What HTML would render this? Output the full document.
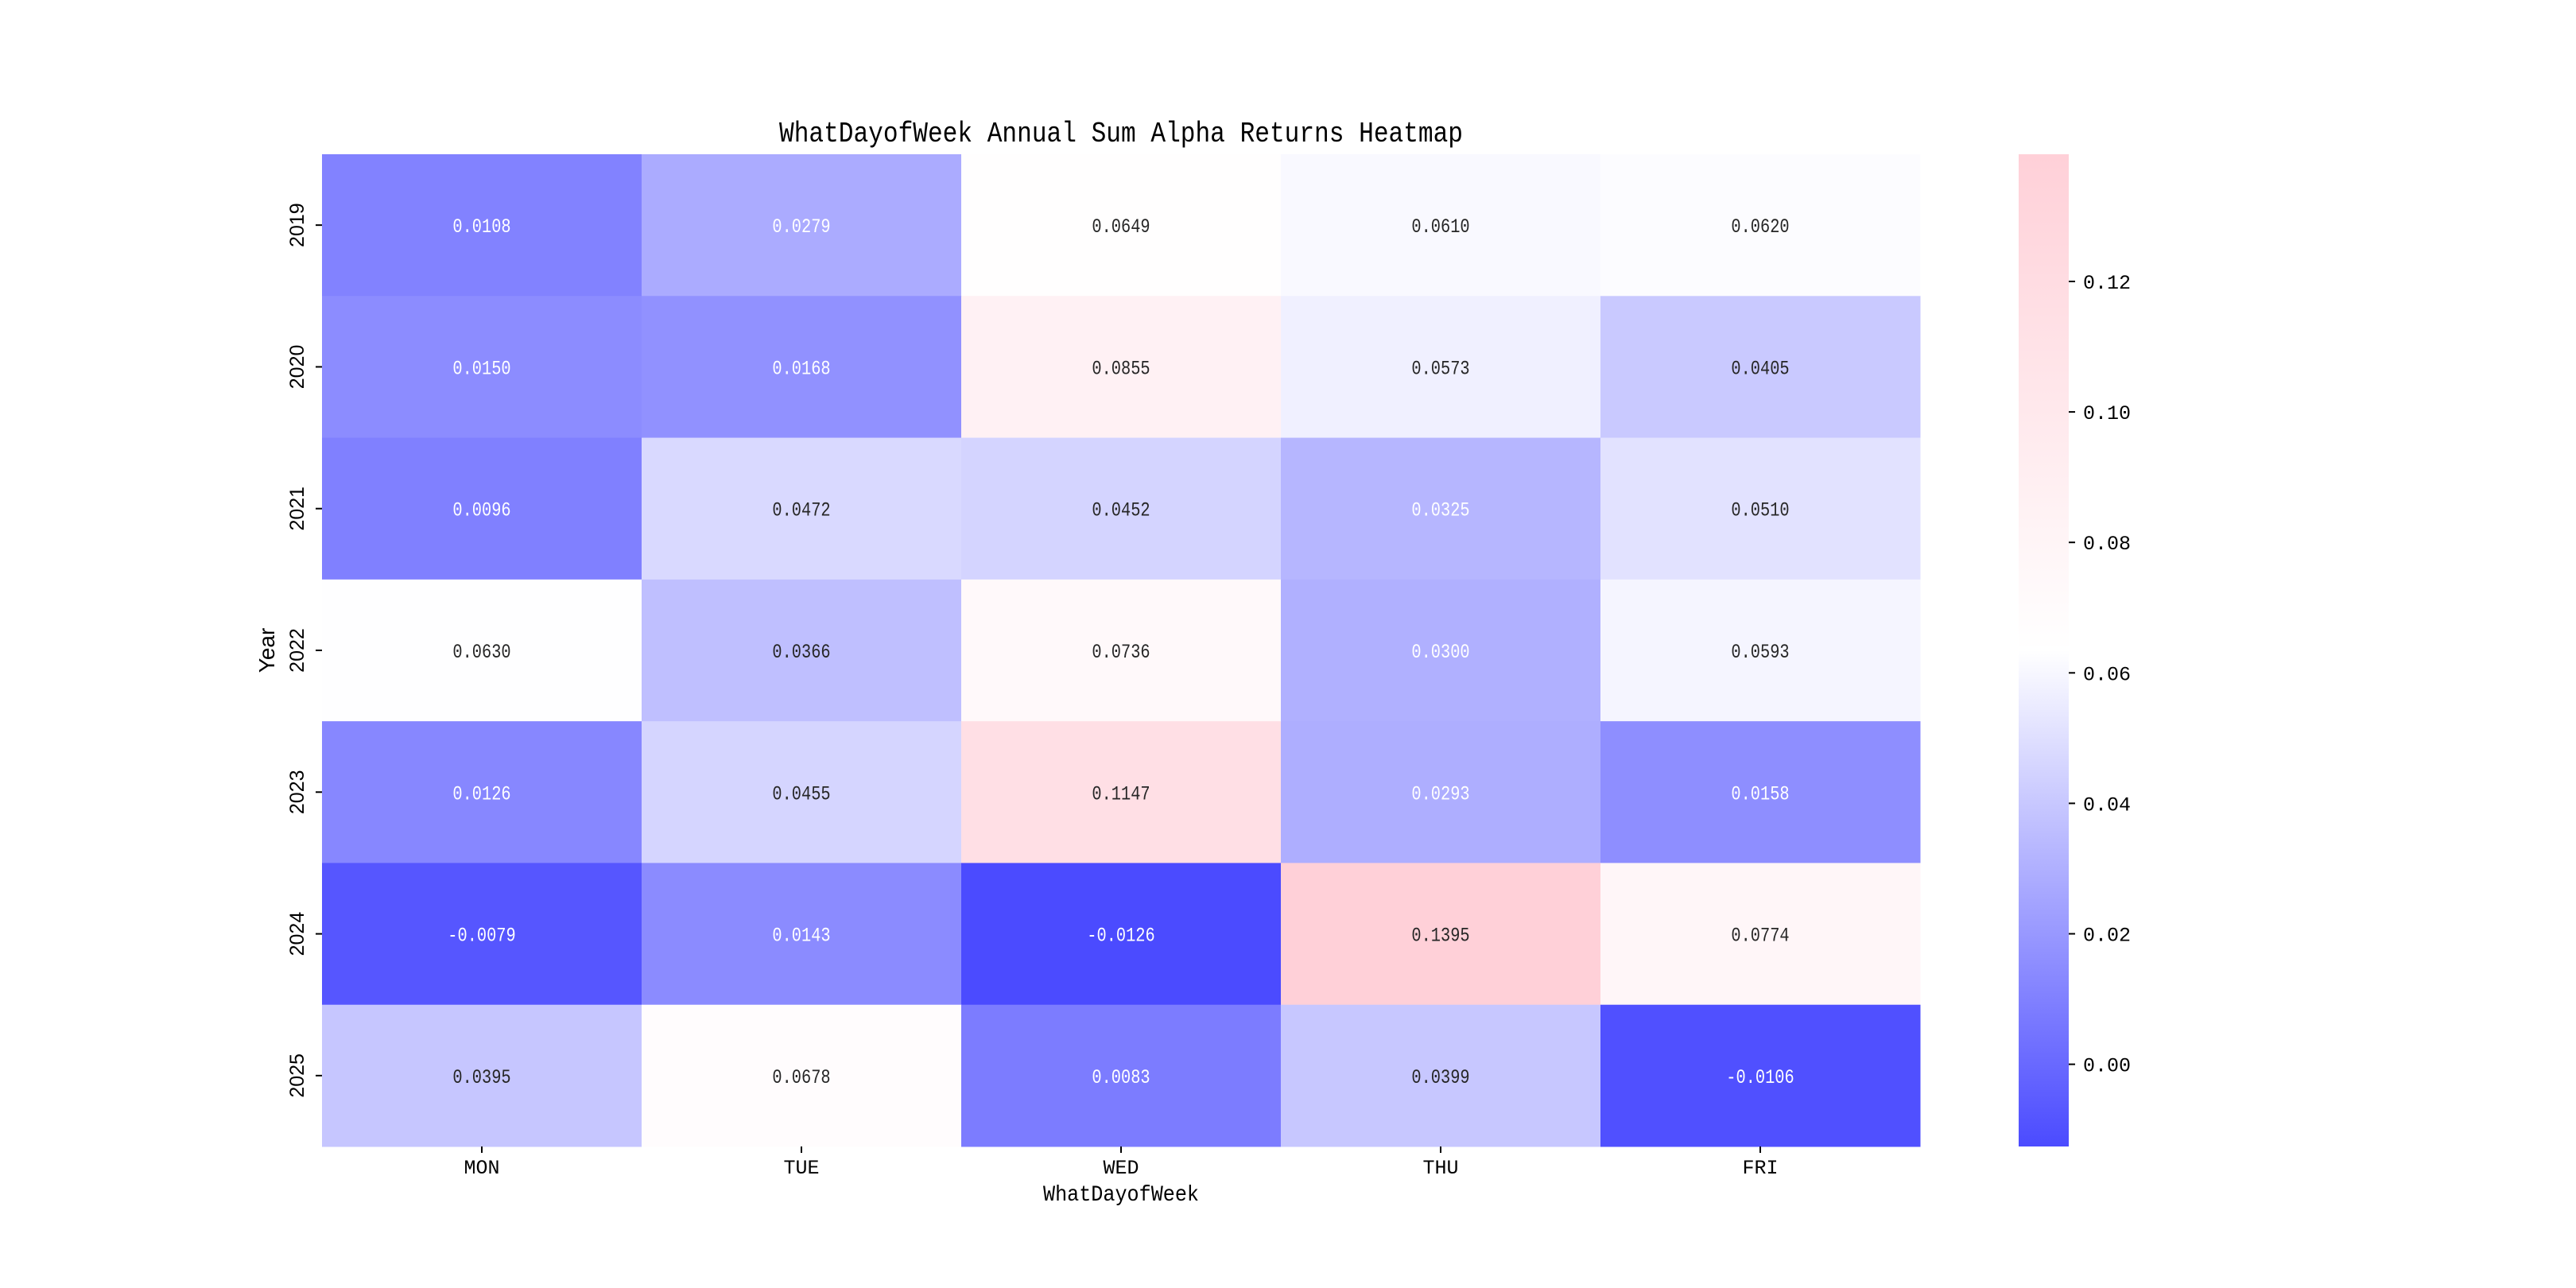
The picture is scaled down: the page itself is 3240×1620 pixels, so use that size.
<!DOCTYPE html>
<html><head><meta charset="utf-8"><style>
html,body{margin:0;padding:0;background:#fff;}
svg{display:block;font-family:"Liberation Mono","WenQuanYi Zen Hei",monospace;}
.sans{font-family:"Liberation Sans",sans-serif;}
</style></head><body>
<svg id="chart" width="3240" height="1620" viewBox="0 0 3240 1620" xmlns="http://www.w3.org/2000/svg">
<defs><linearGradient id="cbgrad" x1="0" y1="1" x2="0" y2="0">
<stop offset="0" stop-color="#4b4bff"/><stop offset="0.5" stop-color="#ffffff"/><stop offset="1" stop-color="#ffd0d8"/>
</linearGradient></defs>
<text x="1410" y="178" font-size="36" text-anchor="middle" textLength="860" lengthAdjust="spacingAndGlyphs">WhatDayofWeek Annual Sum Alpha Returns Heatmap</text>
<g id="cells"></g>
<g id="axes"></g>
<rect x="2539" y="194" width="63" height="1248" fill="url(#cbgrad)"/>
<g id="cbticks"></g>
<text x="1410" y="1510" font-size="28" text-anchor="middle" textLength="196" lengthAdjust="spacingAndGlyphs">WhatDayofWeek</text>
<text class="sans" transform="translate(345,818) rotate(-90)" font-size="28" text-anchor="middle">Year</text>
</svg>
<script>
const days = ["MON","TUE","WED","THU","FRI"];
const years = ["2019","2020","2021","2022","2023","2024","2025"];
const row2019 = [0.0108,0.0279,0.0649,0.0610,0.0620];
const row2020 = [0.0150,0.0168,0.0855,0.0573,0.0405];
const row2021 = [0.0096,0.0472,0.0452,0.0325,0.0510];
const row2022 = [0.0630,0.0366,0.0736,0.0300,0.0593];
const row2023 = [0.0126,0.0455,0.1147,0.0293,0.0158];
const row2024 = [-0.0079,0.0143,-0.0126,0.1395,0.0774];
const row2025 = [0.0395,0.0678,0.0083,0.0399,-0.0106];
const cbTicks = [0.00,0.02,0.04,0.06,0.08,0.10,0.12];
const rows = [row2019,row2020,row2021,row2022,row2023,row2024,row2025];

const NS="http://www.w3.org/2000/svg";
const X0=405,X1=2415,Y0=194,Y1=1442;
const all=rows.flat();
const vmin=Math.min(...all), vmax=Math.max(...all);
const cw=(X1-X0)/days.length, ch=(Y1-Y0)/years.length;
function xPos(i){return X0+i*cw;}
function yPos(j){return Y0+j*ch;}
function cbY(v){return Y1-(v-vmin)/(vmax-vmin)*(Y1-Y0);}
function color(v){
  const t=(v-vmin)/(vmax-vmin);
  let r,g,b;
  if(t<0.5){const f=t/0.5;r=75+f*180;g=75+f*180;b=255;}
  else{const f=(t-0.5)/0.5;r=255;g=255-f*47;b=255-f*39;}
  return `rgb(${Math.round(r)},${Math.round(g)},${Math.round(b)})`;
}
function mk(tag,attrs){const e=document.createElementNS(NS,tag);for(const k in attrs)e.setAttribute(k,attrs[k]);return e;}
const cells=document.getElementById('cells'),axes=document.getElementById('axes'),cbt=document.getElementById('cbticks');
rows.forEach((row,j)=>{
  row.forEach((v,i)=>{
    const r=mk('rect',{x:xPos(i),y:yPos(j),width:cw+0.5,height:ch+0.5,fill:color(v)});
    
    
    cells.appendChild(r);
    const s=v.toFixed(4);
    const t=mk('text',{x:xPos(i)+cw/2,y:yPos(j)+ch/2+9,'font-size':25,'text-anchor':'middle',textLength:s.length*12.2,lengthAdjust:'spacingAndGlyphs',fill:v<0.034?'#ffffff':'#262626'});
    
    
    t.textContent=s;
    cells.appendChild(t);
  });
});
years.forEach((y,j)=>{
  const cy=yPos(j)+ch/2;
  const l=mk('line',{x1:X0-8,x2:X0,y1:cy,y2:cy,stroke:'#000','stroke-width':2});
  
  
  axes.appendChild(l);
  const t=mk('text',{transform:`translate(382,${cy}) rotate(-90)`,'font-size':25,'text-anchor':'middle','class':'sans'});
  
  
  t.textContent=y;axes.appendChild(t);
});
days.forEach((d,i)=>{
  const cx=xPos(i)+cw/2;
  const l=mk('line',{x1:cx,x2:cx,y1:Y1,y2:Y1+8,stroke:'#000','stroke-width':2});
  
  
  axes.appendChild(l);
  const t=mk('text',{x:cx,y:1476,'font-size':25,'text-anchor':'middle'});
  
  
  t.textContent=d;axes.appendChild(t);
});
cbTicks.forEach(v=>{
  const y=cbY(v);
  const l=mk('line',{x1:2602,x2:2610,y1:y,y2:y,stroke:'#000','stroke-width':2});
  
  
  cbt.appendChild(l);
  const t=mk('text',{x:2620,y:y+9,'font-size':25});
  
  
  t.textContent=v.toFixed(2);cbt.appendChild(t);
});
</script>
</body></html>
